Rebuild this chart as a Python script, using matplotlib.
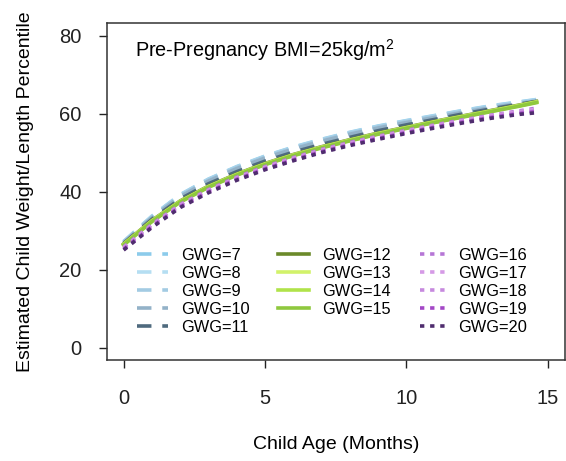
import matplotlib
matplotlib.use("Agg")
import matplotlib.pyplot as plt

plt.rcParams["font.family"] = ["Liberation Sans", "DejaVu Sans"]
plt.rcParams["mathtext.fontset"] = "custom"
plt.rcParams["mathtext.rm"] = "Liberation Sans"

# Child age in months
months = [0, 1, 2, 3, 4, 5, 6, 7, 8, 9, 10, 11, 12, 13, 14, 14.6]

# estimated percentile per gestational weight gain (GWG)
gwg7 = [27.2, 33.7, 39.2, 43.2, 46.4, 49.1, 51.4, 53.4, 55.2, 56.8, 58.2, 59.5, 60.8, 62.0, 63.0, 63.6]
gwg8 = [27.1, 33.6, 39.1, 43.1, 46.3, 49.0, 51.3, 53.3, 55.1, 56.7, 58.1, 59.4, 60.7, 61.9, 62.9, 63.5]
gwg9 = [27.0, 33.5, 39.0, 43.0, 46.2, 48.9, 51.2, 53.2, 55.0, 56.6, 58.0, 59.3, 60.6, 61.8, 62.8, 63.4]
gwg10 = [26.9, 33.3, 38.7, 42.7, 45.9, 48.6, 50.9, 52.9, 54.7, 56.3, 57.7, 59.0, 60.3, 61.5, 62.6, 63.2]
gwg11 = [26.7, 32.9, 38.1, 42.0, 45.1, 47.8, 50.1, 52.1, 53.9, 55.6, 57.1, 58.5, 59.9, 61.2, 62.4, 63.1]
gwg12 = [26.6, 32.6, 37.6, 41.4, 44.5, 47.2, 49.5, 51.5, 53.3, 55.0, 56.5, 58.0, 59.4, 60.8, 62.2, 63.1]
gwg13 = [26.5, 32.5, 37.5, 41.3, 44.4, 47.1, 49.4, 51.4, 53.2, 54.9, 56.4, 57.9, 59.3, 60.7, 62.1, 63.0]
gwg14 = [26.4, 32.4, 37.4, 41.2, 44.3, 47.0, 49.3, 51.3, 53.1, 54.8, 56.3, 57.8, 59.2, 60.6, 62.0, 62.9]
gwg15 = [26.3, 32.3, 37.3, 41.1, 44.2, 46.9, 49.2, 51.2, 53.0, 54.7, 56.2, 57.7, 59.1, 60.5, 61.9, 62.8]
gwg16 = [25.8, 31.6, 36.7, 40.5, 43.7, 46.4, 48.7, 50.8, 52.6, 54.2, 55.7, 57.1, 58.4, 59.6, 60.7, 61.4]
gwg17 = [25.6, 31.4, 36.5, 40.3, 43.5, 46.2, 48.5, 50.6, 52.4, 54.0, 55.5, 56.9, 58.2, 59.4, 60.5, 61.1]
gwg18 = [25.4, 31.2, 36.3, 40.1, 43.3, 46.0, 48.3, 50.4, 52.2, 53.8, 55.3, 56.7, 58.0, 59.2, 60.3, 60.8]
gwg19 = [25.2, 31.0, 36.1, 39.9, 43.1, 45.8, 48.1, 50.2, 52.0, 53.6, 55.1, 56.5, 57.8, 59.0, 60.0, 60.5]
gwg20 = [25.0, 30.8, 35.9, 39.7, 42.9, 45.6, 47.9, 50.0, 51.8, 53.4, 54.9, 56.3, 57.6, 58.8, 59.8, 60.2]

blue_series = [gwg7, gwg8, gwg9, gwg10, gwg11]
blue_labels = ["GWG=7", "GWG=8", "GWG=9", "GWG=10", "GWG=11"]
blue_colors = ["#8ccbeb", "#b5def2", "#a3cbe3", "#93b2c8", "#4f6a7e"]

green_series = [gwg12, gwg13, gwg14, gwg15]
green_labels = ["GWG=12", "GWG=13", "GWG=14", "GWG=15"]
green_colors = ["#6b8a2a", "#d2f26a", "#b0e34a", "#8fc83e"]

purple_series = [gwg16, gwg17, gwg18, gwg19, gwg20]
purple_labels = ["GWG=16", "GWG=17", "GWG=18", "GWG=19", "GWG=20"]
purple_colors = ["#b676d6", "#d59ae6", "#c689de", "#a347c6", "#4f2d6e"]

fig = plt.figure(figsize=(5.66, 4.61), dpi=100)
ax = fig.add_axes([0.1885, 0.219, 0.8095, 0.731])

blue_lines = []
for y, c in zip(blue_series, blue_colors):
    l, = ax.plot(months, y, color=c, lw=2.6, ls=(0, (4, 3)))
    blue_lines.append(l)
green_lines = []
for y, c in zip(green_series, green_colors):
    l, = ax.plot(months, y, color=c, lw=2.6, ls="-")
    green_lines.append(l)
purple_lines = []
for y, c in zip(purple_series, purple_colors):
    l, = ax.plot(months, y, color=c, lw=2.6, ls=(0, (1.2, 1.6)))
    purple_lines.append(l)

ax.set_xlim(-0.6, 15.6)
ax.set_ylim(-3.2, 83.2)
ax.set_xticks([0, 5, 10, 15])
ax.set_yticks([0, 20, 40, 60, 80])
ax.tick_params(direction="out", length=6, width=1, labelsize=14.5, colors="#222222")
ax.tick_params(axis="x", pad=15)
ax.tick_params(axis="y", pad=12)
for s in ax.spines.values():
    s.set_linewidth(1.1)
    s.set_color("#333333")

ax.set_xlabel("Child Age (Months)", fontsize=14, labelpad=20)
ax.set_ylabel("Estimated Child Weight/Length Percentile", fontsize=14, labelpad=18)

ax.text(0.062, 0.9, "Pre-Pregnancy BMI=25kg/m$^2$", transform=ax.transAxes, fontsize=14.3)

leg_kw = dict(loc="upper left", frameon=False, fontsize=11.8, borderpad=0, borderaxespad=0,
              labelspacing=0.18, handletextpad=0.8)
leg1 = ax.legend(blue_lines, blue_labels, bbox_to_anchor=(0.066, 0.333), handlelength=1.9, **leg_kw)
ax.add_artist(leg1)
leg2 = ax.legend(green_lines, green_labels, bbox_to_anchor=(0.373, 0.333), handlelength=1.9, **leg_kw)
ax.add_artist(leg2)
ax.legend(purple_lines, purple_labels, bbox_to_anchor=(0.684, 0.333), handlelength=1.5, **leg_kw)

fig.savefig("out.png", dpi=100)
